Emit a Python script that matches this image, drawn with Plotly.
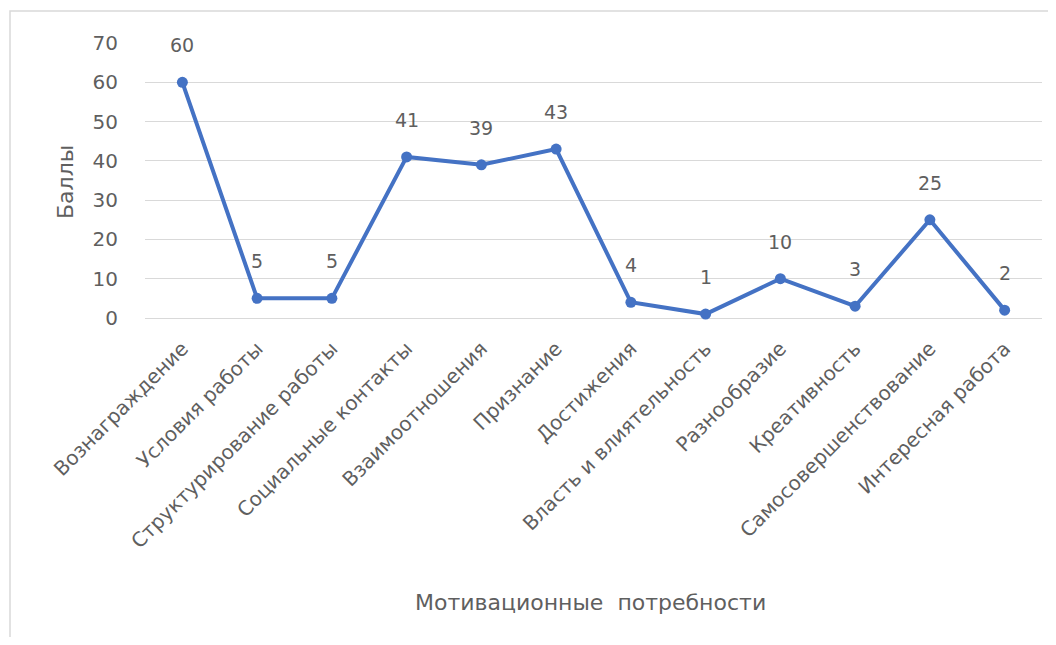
import plotly.graph_objects as go

categories = ["Вознаграждение", "Условия работы", "Структурирование работы",
              "Социальные контакты", "Взаимоотношения", "Признание", "Достижения",
              "Власть и влиятельность", "Разнообразие", "Креативность",
              "Самосовершенствование", "Интересная работа"]
values = [60, 5, 5, 41, 39, 43, 4, 1, 10, 3, 25, 2]
y_ticks = [0, 10, 20, 30, 40, 50, 60, 70]

# page has an 8px body margin; work in page coordinates
OFF = 8
W, H = 1056 - 2 * OFF, 645 - 2 * OFF
pl, pr, pt, pb = 145, 1042, 43, 318   # plot area in page coords
L, R, T, B = pl - OFF, (OFF + W) - pr, pt - OFF, (OFF + H) - pb
pw, ph = pr - pl, pb - pt

def px(x):
    return (x - pl) / pw

def py(y):
    return (pb - y) / ph

gray = "#5f5f5f"
font_family = "DejaVu Sans"

fig = go.Figure()
fig.add_trace(go.Scatter(
    x=categories, y=values, mode="lines+markers",
    line=dict(color="#4472C4", width=4),
    marker=dict(color="#4472C4", size=11),
    cliponaxis=False, showlegend=False, hoverinfo="x+y"))

for c, v in zip(categories, values):
    fig.add_annotation(x=c, y=v, text=str(v), showarrow=False,
                       yshift=37, font=dict(family=font_family, size=19, color=gray))

# axis titles
fig.add_annotation(xref="paper", yref="paper", x=px(590), y=py(603), text="Мотивационные  потребности",
                   showarrow=False, xanchor="center", yanchor="middle",
                   font=dict(family=font_family, size=22, color=gray))
fig.add_annotation(xref="paper", yref="paper", x=px(66), y=py(182), text="Баллы",
                   showarrow=False, xanchor="center", yanchor="middle", textangle=-90,
                   font=dict(family=font_family, size=22, color=gray))

# chart frame
fig.add_shape(type="rect", xref="paper", yref="paper",
              x0=px(10), x1=px(1050), y0=py(640), y1=py(11),
              line=dict(color="#D9D9D9", width=1.5), fillcolor="rgba(0,0,0,0)", layer="below")

fig.update_layout(
    width=W, height=H, autosize=False,
    margin=dict(l=L, r=R, t=T, b=B, autoexpand=False),
    paper_bgcolor="white", plot_bgcolor="white",
    font=dict(family=font_family, color=gray),
    xaxis=dict(type="category", tickangle=-45, tickfont=dict(family=font_family, size=20, color=gray),
               showgrid=False, showline=False, ticks="", zeroline=False, automargin=False,
               ticklabelstandoff=14,
               range=[-0.5, len(categories) - 0.5]),
    yaxis=dict(range=[0, 70], tickvals=y_ticks, showgrid=True, gridcolor="#D9D9D9", gridwidth=1,
               zeroline=True, zerolinecolor="#D9D9D9", zerolinewidth=1, automargin=False,
               showline=False, ticks="", tickfont=dict(family=font_family, size=20, color=gray),
               ticklabelstandoff=26),
)

fig.write_html("out.html")
